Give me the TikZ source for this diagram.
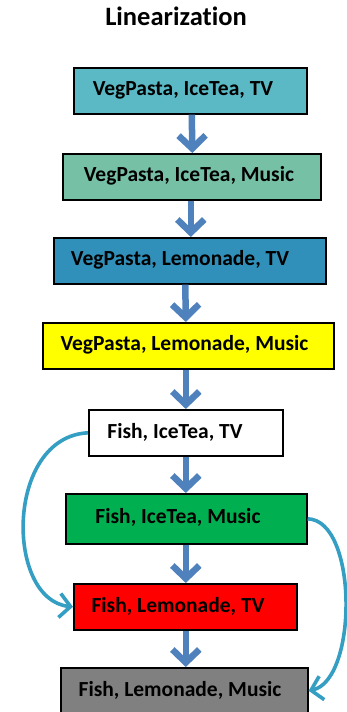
\documentclass[tikz,border=0pt]{standalone}
\usepackage{fontspec}
\setmainfont[Ligatures=NoCommon]{Carlito}
\usetikzlibrary{arrows.meta}
\definecolor{cTeal}{RGB}{90,185,196}
\definecolor{cSea}{RGB}{118,192,166}
\definecolor{cBlue}{RGB}{49,144,185}
\definecolor{cYellow}{RGB}{255,255,0}
\definecolor{cGreen}{RGB}{0,176,80}
\definecolor{cRed}{RGB}{255,0,0}
\definecolor{cGray}{RGB}{128,128,128}
\definecolor{stepArrow}{RGB}{79,129,189}
\definecolor{jumpArrow}{RGB}{52,158,195}
\begin{document}
\begin{tikzpicture}[x=1pt,y=-1pt,
  box/.style={draw=black,line width=1.6pt,inner sep=0pt,anchor=north west},
  lbl/.style={font=\bfseries\fontsize{21.5}{24}\selectfont,inner sep=0pt},
  down/.style={draw=stepArrow,line width=6.5pt,-{Straight Barb[length=13pt,width=27pt]}},
  jump/.style={draw=jumpArrow,line width=3.6pt,-{Straight Barb[length=11pt,width=24pt]}}]
\useasboundingbox (0,0) rectangle (347,712);

\node[font=\bfseries\fontsize{26.5}{30}\selectfont] (title) at (176,16) {Linearization};

% the eight states, top to bottom
\node[box,fill=cTeal,minimum width=233pt,minimum height=46pt] (b1) at (73,67) {};
\node[box,fill=cSea,minimum width=258pt,minimum height=46pt] (b2) at (62,153) {};
\node[box,fill=cBlue,minimum width=272pt,minimum height=46pt] (b3) at (53,237) {};
\node[box,fill=cYellow,minimum width=291pt,minimum height=46pt] (b4) at (42,322) {};
\node[box,fill=white,minimum width=194pt,minimum height=46pt] (b5) at (88,409) {};
\node[box,fill=cGreen,minimum width=241pt,minimum height=50pt] (b6) at (65,493) {};
\node[box,fill=cRed,minimum width=223pt,minimum height=46pt] (b7) at (73,583) {};
\node[box,fill=cGray,minimum width=247pt,minimum height=46pt] (b8) at (60,667) {};

\node[lbl] (t1) at (183,90) {VegPasta, IceTea, TV};
\node[lbl] (t2) at (189,176) {VegPasta, IceTea, Music};
\node[lbl] (t3) at (180,260) {VegPasta, Lemonade, TV};
\node[lbl] (t4) at (184.5,345) {VegPasta, Lemonade, Music};
\node[lbl] (t5) at (175,432) {Fish, IceTea, TV};
\node[lbl] (t6) at (178,517) {Fish, IceTea, Music};
\node[lbl] (t7) at (178,606) {Fish, Lemonade, TV};
\node[lbl] (t8) at (180,690) {Fish, Lemonade, Music};

% step arrows between consecutive states
\draw[down] ([xshift=1.5pt]b1.south) -- ([xshift=0.5pt]b2.north);
\draw[down] ([xshift=-1pt]b2.south) -- ([xshift=-1pt]b2.south |- b3.north);
\draw[down] ([xshift=-4.5pt]b3.south) -- ([xshift=-2.5pt]b4.north);
\draw[down] ([xshift=-2.5pt]b4.south) -- (b5.north);
\draw[down] (b5.south) -- ([xshift=-0.5pt]b6.north);
\draw[down] ([xshift=-0.5pt]b6.south) -- ([xshift=0.5pt]b7.north);
\draw[down] ([xshift=0.5pt]b7.south) -- ([xshift=1.5pt]b8.north);

% jumps that skip a state
\draw[jump] (b5.west) .. controls (5,437) and (5,600) .. (b7.west);
\draw[jump] (b6.east) .. controls (358,520) and (358,680) .. (b8.east);
\end{tikzpicture}
\end{document}
